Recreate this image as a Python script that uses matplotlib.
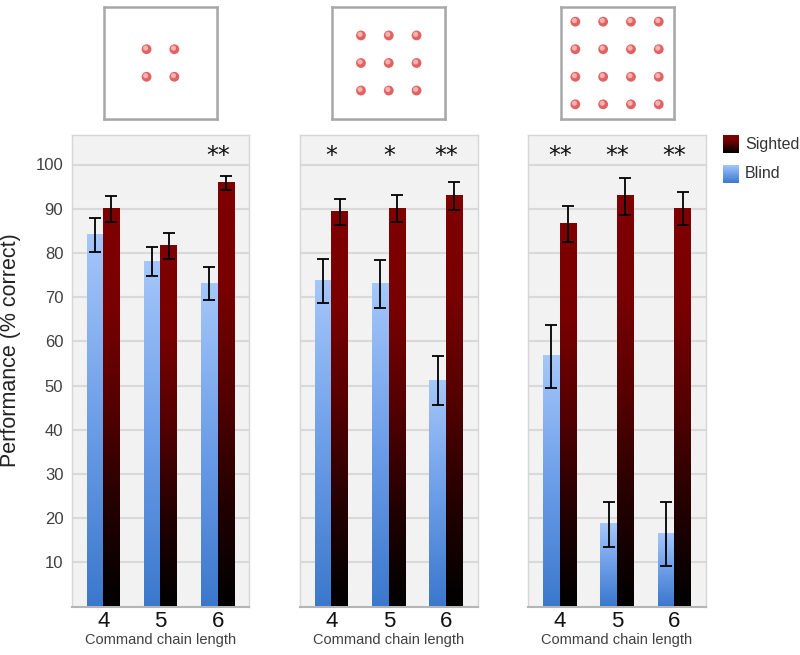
import numpy as np
import matplotlib
matplotlib.use('Agg')
import matplotlib.pyplot as plt
from matplotlib.colors import LinearSegmentedColormap
from matplotlib.patches import Rectangle

plt.rcParams['font.family'] = ['Liberation Sans', 'DejaVu Sans']

# chart data
chain_lengths = ['4', '5', '6']
grid_sizes = [2, 3, 4]          # dots per side in the pictures above each panel

blind = [[84.0, 78.0, 73.0], [73.7, 72.9, 51.1], [56.6, 18.6, 16.4]]
blind_err = [[3.8, 3.3, 3.7], [5.0, 5.4, 5.5], [7.2, 5.1, 7.2]]
sighted = [[90.0, 81.6, 95.8], [89.2, 90.0, 92.8], [86.6, 92.8, 90.0]]
sighted_err = [[2.9, 2.9, 1.6], [2.9, 3.0, 3.2], [4.1, 4.2, 3.8]]
stars = [['', '', '**'], ['*', '*', '**'], ['**', '**', '**']]
yticks = [10, 20, 30, 40, 50, 60, 70, 80, 90, 100]

blue_cmap = LinearSegmentedColormap.from_list(
    'blue', ['#3b78cc', '#6d9ee8', '#a5c7fa'])
red_cmap = LinearSegmentedColormap.from_list(
    'red', [(0, '#000000'), (0.25, '#240000'), (0.5, '#540000'),
            (0.75, '#780000'), (1.0, '#800000')])
grad = np.linspace(0, 1, 256).reshape(-1, 1)


def gradient_bars(ax, bars, cmap):
    for p in bars:
        ax.imshow(grad, extent=[p.get_x(), p.get_x() + p.get_width(), 0, p.get_height()],
                  origin='lower', cmap=cmap, aspect='auto', zorder=3)


W, H = 800, 655
fig = plt.figure(figsize=(8, 6.55), dpi=100)

panel_left = [71.7, 300, 528.3]
panel_w = 177.5
top_px, bot_px = 134.5, 606.5
ymax = (bot_px - top_px) / 4.42
x = np.arange(3)
w = 0.29

for i in range(3):
    ax = fig.add_axes([panel_left[i] / W, 1 - bot_px / H, panel_w / W, (bot_px - top_px) / H])
    ax.set_facecolor('#f2f2f2')
    b1 = ax.bar(x - w / 2, blind[i], w, color='none', zorder=3)
    b2 = ax.bar(x + w / 2, sighted[i], w, color='none', zorder=3)
    gradient_bars(ax, b1, blue_cmap)
    gradient_bars(ax, b2, red_cmap)
    ax.errorbar(x - w / 2, blind[i], yerr=blind_err[i], fmt='none', ecolor='black',
                elinewidth=1.3, capsize=4, capthick=1.3, zorder=5)
    ax.errorbar(x + w / 2, sighted[i], yerr=sighted_err[i], fmt='none', ecolor='black',
                elinewidth=1.3, capsize=4, capthick=1.3, zorder=5)
    for j in range(3):
        if stars[i][j]:
            ax.text(x[j], 102.0, stars[i][j], ha='center', va='center',
                    fontsize=17, family=['DejaVu Sans'], color='#111111')
    for v in yticks:
        ax.axhline(v, color='#d9d9d9', lw=1.5, zorder=1)
    ax.set_xlim(-0.55, 2.55)
    ax.set_ylim(0, ymax)
    ax.set_xticks(x)
    ax.set_xticklabels(chain_lengths, fontsize=16, color='#111111')
    ax.set_yticks(yticks)
    if i == 0:
        ax.set_yticklabels([str(v) for v in yticks], fontsize=12, color='#404040')
    else:
        ax.set_yticklabels([])
    ax.tick_params(length=0, axis='y', pad=6)
    ax.tick_params(length=0, axis='x', pad=3)
    ax.set_xlabel('Command chain length', fontsize=10.5, color='#404040', labelpad=1)
    for s in ['left', 'top', 'right']:
        ax.spines[s].set_color('#d6d6d6')
        ax.spines[s].set_linewidth(1)
    ax.spines['bottom'].set_color('#b5b5b5')
    ax.spines['bottom'].set_linewidth(1.5)

    # picture of the dot grid above the panel, with a soft shadow
    bx = panel_left[i] + panel_w / 2 - 56.5
    fig.patches.append(Rectangle(((bx + 2) / W, 1 - 121 / H), 113 / W, 112 / H,
                                 transform=fig.transFigure, facecolor='#e4e4e4',
                                 edgecolor='none', zorder=-5))
    pic = fig.add_axes([bx / W, 1 - 119 / H, 113 / W, 112 / H])
    pic.set_zorder(2)
    pic.set_xlim(0, 1)
    pic.set_ylim(0, 1)
    pic.set_xticks([])
    pic.set_yticks([])
    for s in pic.spines.values():
        s.set_color('#a8a8a8')
        s.set_linewidth(1.8)
    n = grid_sizes[i]
    pos = 0.5 + (np.arange(n) - (n - 1) / 2) * 0.246
    px, py = np.meshgrid(pos, pos)
    pic.scatter(px.ravel(), py.ravel(), s=50, color='#e06262', edgecolor='none', zorder=3)
    pic.scatter(px.ravel() - 0.008, py.ravel() + 0.01, s=14, color='#f5b0b0',
                edgecolor='none', zorder=4)

fig.text(11 / W, 1 - 350 / H, 'Performance (% correct)', rotation=90, ha='center',
         va='center', fontsize=15.5, color='#222222')

# legend with gradient swatches
leg = fig.add_axes([715 / W, 1 - 190 / H, 85 / W, 60 / H])
leg.axis('off')
leg.imshow(grad, extent=[723, 739, 153, 135], origin='lower', cmap=red_cmap, aspect='auto')
leg.imshow(grad, extent=[723, 739, 183, 165], origin='lower', cmap=blue_cmap, aspect='auto')
leg.set_xlim(715, 800)
leg.set_ylim(190, 130)
leg.text(745, 144, 'Sighted', va='center', fontsize=11.5, color='#333333')
leg.text(745, 174, 'Blind', va='center', fontsize=11.5, color='#333333')

fig.savefig('out.png', dpi=100)
